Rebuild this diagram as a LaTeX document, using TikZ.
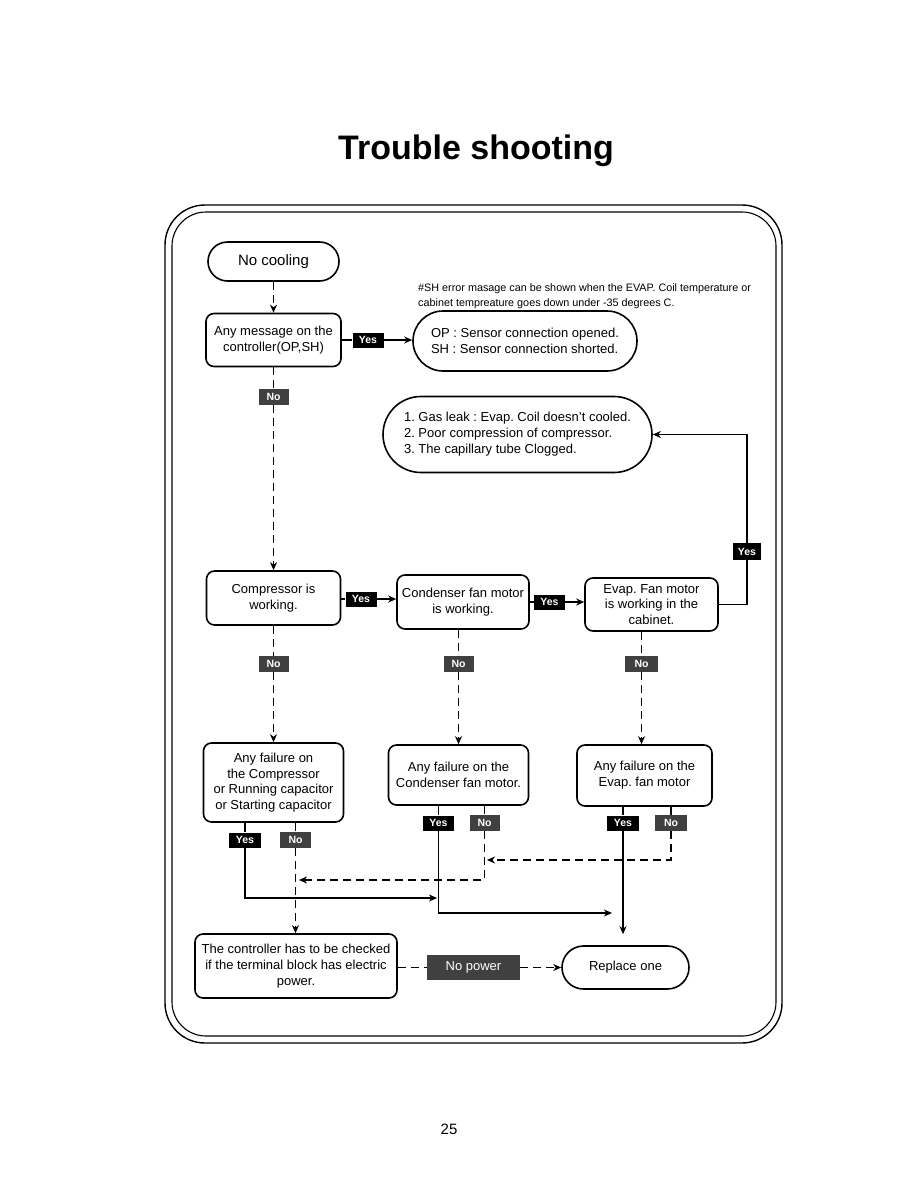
\documentclass[tikz,border=0pt]{standalone}
\usepackage{fontspec}
\setmainfont{Liberation Sans}
\usetikzlibrary{arrows.meta,shapes.misc}
\frenchspacing
\begin{document}
\begin{tikzpicture}[x=1pt,y=-1pt,
  every node/.style={font=\fontsize{13}{16}\selectfont},
  box/.style={draw,line width=1.6pt,rounded corners=8pt,align=center,inner sep=0pt},
  pill/.style={draw,line width=1.6pt,rounded rectangle,align=center,inner sep=0pt},
  yesb/.style={fill=black,text=white,inner sep=0pt,minimum width=31pt,minimum height=15pt,font=\fontsize{10.5}{12}\selectfont\bfseries},
  nob/.style={fill=black!75,text=white,inner sep=0pt,minimum width=30pt,minimum height=16pt,font=\fontsize{10.5}{12}\selectfont\bfseries},
  ln/.style={line width=1.6pt},
  dsh/.style={line width=1.6pt,dash pattern=on 8pt off 5pt},
  arr/.style={-{Stealth[length=8pt,width=7pt,inset=2.5pt]}}
]
\useasboundingbox (0,0) rectangle (918,1188);

% title and page number
\node[anchor=base,font=\fontsize{34}{40}\selectfont\bfseries] (title) at (476,160) {Trouble shooting};
\node[anchor=base,font=\fontsize{15}{18}\selectfont] (page) at (449,1134) {25};

% frame
\draw[line width=1.4pt,rounded corners=40pt] (165,205) rectangle (782,1043);
\draw[line width=1.1pt,rounded corners=34pt] (172,212) rectangle (776,1036);

% note
\node[anchor=north west,align=left,inner sep=0pt,font=\fontsize{10.8}{15}\selectfont] (note) at (418,283)
 {\#SH error masage can be shown when the EVAP. Coil temperature or\\cabinet tempreature goes down under -35 degrees C.};

% nodes
\node[pill,minimum width=131pt,minimum height=39pt,font=\fontsize{15}{18}\selectfont] (nc) at (273.5,261.5) {No cooling};
\node[box,minimum width=135pt,minimum height=53pt] (msg) at (273.5,340) {Any message on the\\controller(OP,SH)};
\node[yesb] (yes1) at (368,340) {Yes};
\node[pill,minimum width=224pt,minimum height=60pt,align=left] (opsh) at (525,341)
 {OP : Sensor connection opened.\\SH : Sensor connection shorted.};
\node[pill,minimum width=269pt,minimum height=76pt,align=left] (causes) at (517.5,434.5)
 {1. Gas leak : Evap. Coil doesn't cooled.\\2. Poor compression of compressor.\\3. The capillary tube Clogged.};
\node[nob] (no1) at (273.5,396.5) {No};

\node[box,minimum width=134pt,minimum height=54pt] (comp) at (273.5,598) {Compressor is\\working.};
\node[yesb] (yes2) at (361,599) {Yes};
\node[box,minimum width=132pt,minimum height=54pt] (cond) at (463,602) {Condenser fan motor\\is working.};
\node[yesb] (yes3) at (549.5,602) {Yes};
\node[box,minimum width=133pt,minimum height=53pt,font=\fontsize{13}{15.5}\selectfont] (evap) at (651.5,604.5) {Evap. Fan motor\\is working in the\\cabinet.};
\node[yesb,minimum width=28pt,minimum height=17pt] (yes4) at (747,551.5) {Yes};

\node[nob] (no2) at (273.5,664) {No};
\node[nob] (no3) at (458.5,664) {No};
\node[nob,minimum width=33pt] (no4) at (641.5,664) {No};

\node[box,minimum width=140pt,minimum height=79pt,font=\fontsize{13}{15.5}\selectfont] (fcomp) at (273.5,782.5)
 {Any failure on\\the Compressor\\or Running capacitor\\or Starting capacitor};
\node[box,minimum width=140pt,minimum height=60pt] (fcond) at (458.5,775) {Any failure on the\\Condenser fan motor.};
\node[box,minimum width=135pt,minimum height=61pt] (fevap) at (644.5,775.5) {Any failure on the\\Evap. fan motor};

\node[yesb,minimum width=32pt] (yes5) at (245,840) {Yes};
\node[nob,minimum width=31pt] (no5) at (295.5,840) {No};
\node[yesb] (yes6) at (438.5,823) {Yes};
\node[nob] (no6) at (484.5,823) {No};
\node[yesb,minimum width=32pt] (yes7) at (623,823) {Yes};
\node[nob,minimum width=32pt] (no7) at (671,823) {No};

\node[box,minimum width=202pt,minimum height=64pt] (ctrl) at (296,966)
 {The controller has to be checked\\if the terminal block has electric\\power.};
\node[fill=black!75,text=white,inner sep=0pt,minimum width=93pt,minimum height=25pt] (nopower) at (473.5,967.5) {No power};
\node[pill,minimum width=127pt,minimum height=43pt] (repl) at (625.5,967.5) {Replace one};

% junction coordinates
\coordinate (j1) at (437,898);
\coordinate (j2) at (612,913);
\coordinate (j3) at (299,880);
\coordinate (j4) at (487,860);

% connectors
\draw[dsh,arr] (nc.south) -- (msg.north);
\draw[ln] (msg.east) -- (yes1.west);
\draw[ln,arr] (yes1.east) -- (yes1.east -| opsh.west);
\draw[dsh] (msg.south) -- (no1.north);
\draw[dsh,arr] (no1.south) -- (comp.north);

\draw[ln] (comp.east |- yes2) -- (yes2.west);
\draw[ln,arr] (yes2.east) -- (yes2 -| cond.west);
\draw[ln] (cond.east |- yes3) -- (yes3.west);
\draw[ln,arr] (yes3.east) -- (yes3 -| evap.west);
\draw[ln] (evap.east) -| (yes4.south);
\draw[ln,arr] (yes4.north) |- (causes.east);

\draw[dsh] (comp.south) -- (no2.north);
\draw[dsh,arr] (no2.south) -- (fcomp.north);
\draw[dsh] (no3 |- cond.south) -- (no3.north);
\draw[dsh,arr] (no3.south) -- (fcond.north);
\draw[dsh] (no4 |- evap.south) -- (no4.north);
\draw[dsh,arr] (no4.south) -- (no4 |- fevap.north);

\draw[ln] (yes5 |- fcomp.south) -- (yes5.north);
\draw[ln,arr] (yes5.south) |- (j1);
\draw[dsh] (no5 |- fcomp.south) -- (no5.north);
\draw[dsh,arr] (no5.south) -- (no5 |- ctrl.north);

\draw[ln] (yes6 |- fcond.south) -- (yes6.north);
\draw[ln,arr] (yes6.south) |- (j2);
\draw[dsh] (no6 |- fcond.south) -- (no6.north);
\draw[dsh,arr] (no6.south) |- (j3);

\draw[ln] (yes7 |- fevap.south) -- (yes7.north);
\draw[ln,arr,shorten >=11pt] (yes7.south) -- (yes7 |- repl.north);
\draw[dsh] (no7 |- fevap.south) -- (no7.north);
\draw[dsh,arr] (no7.south) |- (j4);

\draw[dsh] (ctrl.east |- nopower) -- (nopower.west);
\draw[dsh,arr] (nopower.east) -- (nopower -| repl.west);
\end{tikzpicture}
\end{document}
